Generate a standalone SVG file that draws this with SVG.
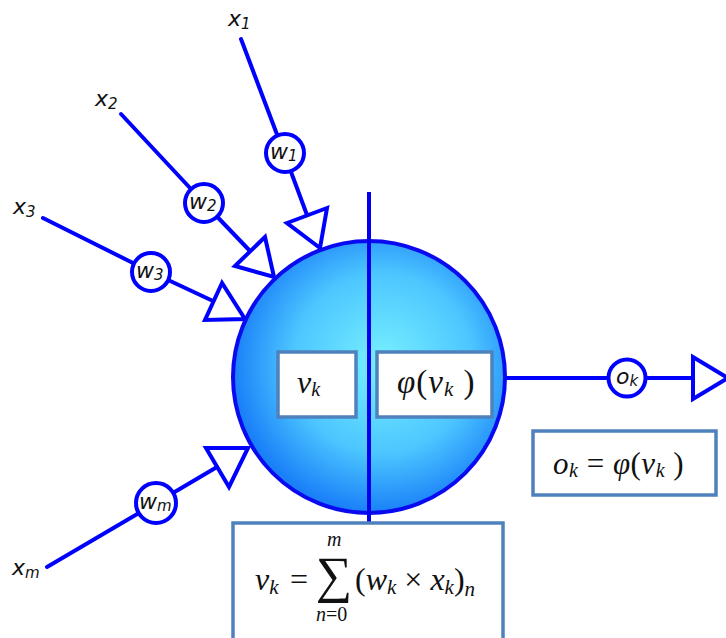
<svg xmlns="http://www.w3.org/2000/svg" width="726" height="638" viewBox="0 0 726 638">
<defs>
<radialGradient id="ball" cx="0.55" cy="0.45" r="0.55">
<stop offset="0" stop-color="#78f0ff"/>
<stop offset="0.6" stop-color="#4cc6ff"/>
<stop offset="1" stop-color="#1a80f8"/>
</radialGradient>
<style>
.ln{stroke:#0000ff;stroke-width:4;fill:none;stroke-linecap:round}
.arr{stroke:#0000ff;stroke-width:4;fill:#ffffff;stroke-linejoin:miter}
.wc{stroke:#0000ff;stroke-width:4;fill:#ffffff}
.box{stroke:#4f81bd;stroke-width:3.5;fill:#ffffff}
.lbl{font-family:"DejaVu Sans",Verdana,sans-serif;font-size:22px;font-style:italic;fill:#111}
.sub{font-size:15px;font-style:italic}
.m{font-family:"Liberation Serif","DejaVu Serif",serif;fill:#111}
.i{font-style:italic}
</style>
</defs>
<rect width="726" height="638" fill="#ffffff"/>
<g id="connectors">
<line class="ln" x1="241" y1="39" x2="284" y2="153"/>
<line class="ln" x1="284" y1="153" x2="307" y2="215"/>
<line class="ln" x1="121" y1="114" x2="204" y2="203"/>
<line class="ln" x1="204" y1="203" x2="250" y2="251"/>
<line class="ln" x1="43" y1="218" x2="151" y2="272"/>
<line class="ln" x1="151" y1="272" x2="213" y2="301"/>
<line class="ln" x1="47" y1="567" x2="156" y2="503"/>
<line class="ln" x1="156" y1="503" x2="217" y2="467"/>
<line class="ln" x1="505" y1="378" x2="693" y2="378"/>
<polygon class="arr" points="287,223 327,208 320,248"/>
<polygon class="arr" points="235,266 265,237 274,277"/>
<polygon class="arr" points="222,283 205,320 245,319"/>
<polygon class="arr" points="206,448 229,487 248,448"/>
<polygon class="arr" points="693,357 693,399 728,378"/>
</g>
<g id="neuron">
<circle cx="369" cy="377" r="136" fill="url(#ball)" stroke="#0a0af0" stroke-width="4"/>
<line x1="369" y1="192" x2="369" y2="522" stroke="#0000ee" stroke-width="4"/>
</g>
<g id="vk-box">
<rect class="box" x="278" y="352" width="78" height="65"/>
<text class="m i" x="297" y="393" font-size="32">v<tspan font-size="20" dy="3">k</tspan></text>
</g>
<g id="phi-box">
<rect class="box" x="377" y="352" width="115" height="65"/>
<text class="m" x="397" y="393" font-size="33" letter-spacing="1"><tspan class="i">φ</tspan>(<tspan class="i">v</tspan><tspan class="i" font-size="21" dy="3">k</tspan><tspan dy="-3"> )</tspan></text>
</g>
<g id="input-x1"><text class="lbl" x="228" y="26">x<tspan class="sub" dy="3">1</tspan></text></g>
<g id="input-x2"><text class="lbl" x="95" y="106">x<tspan class="sub" dy="3">2</tspan></text></g>
<g id="input-x3"><text class="lbl" x="13" y="214">x<tspan class="sub" dy="3">3</tspan></text></g>
<g id="input-xm"><text class="lbl" x="12" y="575">x<tspan class="sub" dy="3">m</tspan></text></g>
<g id="weight-w1"><circle class="wc" cx="285" cy="153" r="19"/><text class="lbl" x="270" y="159" font-size="21">w<tspan class="sub" dy="2">1</tspan></text></g>
<g id="weight-w2"><circle class="wc" cx="204" cy="203" r="19"/><text class="lbl" x="189" y="209" font-size="21">w<tspan class="sub" dy="2">2</tspan></text></g>
<g id="weight-w3"><circle class="wc" cx="151" cy="272" r="19"/><text class="lbl" x="136" y="278" font-size="21">w<tspan class="sub" dy="2">3</tspan></text></g>
<g id="weight-wm"><circle class="wc" cx="156" cy="503" r="20"/><text class="lbl" x="139" y="509" font-size="21">w<tspan class="sub" dy="2">m</tspan></text></g>
<g id="output-ok"><circle class="wc" cx="627" cy="378" r="18.5"/><text class="lbl" x="616" y="384" font-size="19">o<tspan class="sub" font-size="13" dy="2">k</tspan></text></g>
<g id="ok-box">
<rect class="box" x="533" y="431" width="183" height="64"/>
<text class="m" x="553" y="474" font-size="31" letter-spacing="0.5"><tspan class="i">o</tspan><tspan class="i" font-size="20" dy="3">k</tspan><tspan dy="-3"> = </tspan><tspan class="i">φ</tspan>(<tspan class="i">v</tspan><tspan class="i" font-size="20" dy="3">k</tspan><tspan dy="-3"> )</tspan></text>
</g>
<g id="sum-box">
<rect class="box" x="233" y="523" width="270" height="130"/>
<text class="m i" x="255" y="590" font-size="32">v<tspan font-size="21" dy="4">k</tspan></text>
<text class="m" x="290" y="590" font-size="32">=</text>
<text class="m" x="316" y="592" font-size="51">∑</text>
<text class="m i" x="327" y="546" font-size="20">m</text>
<text class="m" x="316" y="621" font-size="20"><tspan class="i">n</tspan>=0</text>
<text class="m" x="355" y="590" font-size="32">(<tspan class="i">w</tspan><tspan class="i" font-size="21" dy="4">k</tspan><tspan dy="-4"> × </tspan><tspan class="i">x</tspan><tspan class="i" font-size="21" dy="4">k</tspan><tspan dy="-4">)</tspan><tspan class="i" font-size="21" dy="6">n</tspan></text>
</g>
</svg>
